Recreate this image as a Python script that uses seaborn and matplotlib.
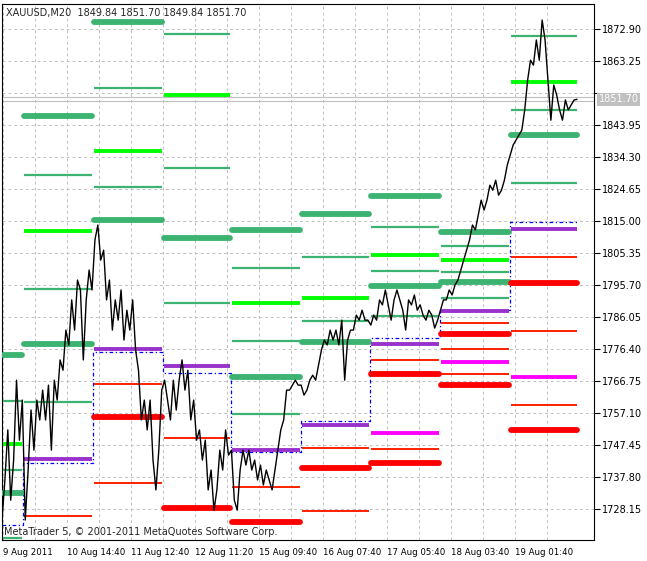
import matplotlib
matplotlib.use("Agg")
import matplotlib.pyplot as plt
import numpy as np
import pandas as pd
import seaborn as sns

# segment edges of each trading session (bar index, one bar per pixel column)
day_edges = [2, 23, 93, 163, 231, 301, 370, 440, 510, 578]

# levels per session: (price, kind)
levels = [
    [(1774.6, "G"), (1760.7, "g"), (1747.7, "L"), (1739.9, "g"), (1733.0, "G"), (1719.4, "g")],
    [(1846.7, "G"), (1828.9, "g"), (1812.0, "L"), (1794.5, "g"), (1777.9, "G"), (1760.4, "g"),
     (1743.2, "P"), (1726.0, "r")],
    [(1875.0, "G"), (1855.1, "g"), (1836.1, "L"), (1825.3, "g"), (1815.3, "G"), (1776.4, "P"),
     (1765.8, "r"), (1755.9, "R"), (1736.0, "r")],
    [(1871.4, "g"), (1853.0, "L"), (1831.0, "g"), (1809.9, "G"), (1790.3, "g"), (1771.3, "P"),
     (1749.6, "r"), (1728.4, "R")],
    [(1812.3, "G"), (1800.8, "g"), (1790.3, "L"), (1778.8, "g"), (1768.0, "G"), (1756.8, "g"),
     (1745.9, "P"), (1734.8, "r"), (1724.2, "R")],
    [(1817.1, "G"), (1804.1, "g"), (1791.8, "L"), (1784.8, "g"), (1778.5, "G"), (1753.5, "P"),
     (1746.5, "r"), (1740.5, "R"), (1727.5, "r")],
    [(1822.5, "G"), (1813.2, "g"), (1804.7, "L"), (1799.9, "g"), (1795.4, "G"), (1786.3, "g"),
     (1777.9, "P"), (1773.1, "r"), (1768.9, "R"), (1751.1, "M"), (1746.2, "r"), (1742.0, "R")],
    [(1811.7, "G"), (1807.5, "g"), (1803.2, "L"), (1799.6, "g"), (1796.6, "G"), (1791.8, "g"),
     (1787.9, "P"), (1784.2, "r"), (1780.9, "R"), (1776.4, "r"), (1772.5, "M"), (1768.9, "r"),
     (1765.5, "R")],
    [(1870.8, "g"), (1856.9, "L"), (1848.5, "g"), (1840.9, "G"), (1826.5, "g"), (1812.6, "P"),
     (1804.1, "r"), (1796.3, "R"), (1781.8, "r"), (1768.0, "M"), (1759.5, "r"), (1752.0, "R")],
]

# previous-session reference line (blue dash-dot step)
pivot = [1723.3, 1742.0, 1775.5, 1769.2, 1745.3, 1754.7, 1779.7, 1788.2, 1814.7]

close = [
    1724.8, 1736.9, 1752.0, 1730.8, 1742.9, 1767.0, 1748.9, 1761.0, 1724.8, 1739.9, 1758.0, 1745.9,
    1761.0, 1755.0, 1764.0, 1755.0, 1765.5, 1745.9, 1767.0, 1761.0, 1773.1, 1770.0, 1782.1, 1777.6,
    1791.2, 1782.1, 1797.2, 1794.2, 1773.1, 1791.2, 1800.2, 1794.2, 1809.3, 1813.8, 1803.2, 1806.2,
    1791.2, 1797.2, 1782.1, 1791.2, 1785.1, 1794.2, 1779.1, 1788.1, 1782.1, 1791.2, 1776.1, 1770.0,
    1755.0, 1761.0, 1752.0, 1761.0, 1742.9, 1733.9, 1745.9, 1764.0, 1767.0, 1761.0, 1755.0, 1767.0,
    1758.0, 1767.0, 1773.1, 1764.0, 1770.0, 1755.0, 1761.0, 1748.9, 1752.0, 1742.9, 1748.9, 1733.9,
    1739.9, 1727.8, 1733.9, 1745.9, 1739.9, 1752.0, 1744.4, 1745.9, 1730.8, 1727.8, 1739.9, 1745.9,
    1741.4, 1745.9, 1739.9, 1742.9, 1736.9, 1741.4, 1735.4, 1739.9, 1736.9, 1733.9, 1739.9, 1745.9,
    1752.0, 1755.0, 1764.0, 1764.0, 1765.5, 1767.0, 1765.5, 1765.5, 1762.5, 1764.0, 1767.0, 1768.5,
    1767.0, 1771.6, 1776.1, 1779.1, 1777.6, 1782.1, 1779.1, 1782.1, 1777.6, 1785.1, 1767.0, 1779.1,
    1782.1, 1782.1, 1786.6, 1785.1, 1788.1, 1785.1, 1785.1, 1783.6, 1786.6, 1785.1, 1791.2, 1789.7,
    1794.2, 1789.7, 1785.1, 1791.2, 1794.2, 1791.2, 1788.1, 1782.1, 1791.2, 1789.7, 1792.7, 1788.1,
    1789.7, 1786.6, 1785.1, 1788.1, 1786.6, 1782.7, 1785.1, 1788.1, 1791.2, 1791.2, 1794.2, 1792.7,
    1795.7, 1797.2, 1800.2, 1803.2, 1806.2, 1809.3, 1813.8, 1812.3, 1816.8, 1821.3, 1818.3, 1821.3,
    1825.8, 1824.3, 1827.3, 1822.8, 1824.3, 1827.3, 1831.9, 1834.9, 1837.9, 1839.4, 1840.9, 1842.4,
    1848.5, 1857.5, 1863.5, 1862.0, 1869.6, 1863.5, 1875.6, 1869.6, 1857.5, 1845.4, 1856.0, 1853.0,
    1848.5, 1845.4, 1851.5, 1848.5, 1850.0, 1851.5, 1851.7,
]

tick_labels = ["9 Aug 2011", "10 Aug 14:40", "11 Aug 12:40", "12 Aug 11:20", "15 Aug 09:40",
               "16 Aug 07:40", "17 Aug 05:40", "18 Aug 03:40", "19 Aug 01:40"]
last_price = 1851.70

STYLE = {
    "G": ("#3CB371", 4.2),
    "g": ("#3CB371", 1.6),
    "L": ("#00FF00", 2.8),
    "P": ("#9932CC", 2.8),
    "M": ("#FF00FF", 2.8),
    "R": ("#FF0000", 4.2),
    "r": ("#FF2000", 1.4),
}

sns.set_style("white")
plt.rcParams["font.family"] = ["DejaVu Sans"]

fig = plt.figure(figsize=(6.47, 5.61), dpi=100)
ax = fig.add_axes([2 / 647, 21 / 561, 592 / 647, 536 / 561])
ax.set_xlim(2, 594)
ax.set_ylim(1718.8, 1880.44)

rows = []
for i, segs in enumerate(levels):
    for price, kind in segs:
        rows.append({"x0": day_edges[i], "x1": day_edges[i + 1], "price": price, "kind": kind})
lv = pd.DataFrame(rows)

for kind, grp in lv.groupby("kind"):
    color, lw = STYLE[kind]
    for _, r in grp.iterrows():
        ax.plot([r.x0 + 1, r.x1 - 1], [r.price, r.price], color=color, lw=lw,
                solid_capstyle="round" if lw > 3 else "butt", zorder=3)

ax.step(day_edges, pivot + [pivot[-1]], where="post", color="#0000FF", lw=0.9,
        ls=(0, (3, 2, 1, 2)), zorder=2)

df = pd.DataFrame({"bar": np.linspace(2, 577, len(close)), "close": close})
sns.lineplot(data=df, x="bar", y="close", color="black", lw=1.0, ax=ax, zorder=4)

ax.axhline(last_price + 0.6, color="#c0c0c0", lw=0.8, zorder=1)
ax.axhline(last_price - 0.6, color="#c0c0c0", lw=0.8, zorder=1)

yt = 1728.15 + 9.65 * np.arange(16)
ax.set_yticks(yt)
# the label nearest the last-price box is hidden by that box
ax.set_yticklabels(["" if abs(v - last_price) < 4 else f"{v:.2f}" for v in yt], fontsize=7)
ax.yaxis.tick_right()
ax.set_xticks(3 + 64 * np.arange(len(tick_labels)))
ax.set_xticklabels(tick_labels, fontsize=6.2, ha="left")
ax.set_xticks(35 + 64 * np.arange(len(tick_labels)), minor=True)
ax.tick_params(axis="both", length=4, width=0.8, pad=2, colors="black", direction="out")
ax.tick_params(axis="x", which="minor", length=0)
ax.grid(True, which="both", color="#c0c0c0", ls=(0, (3, 3)), lw=0.7)
ax.set_xlabel("")
ax.set_ylabel("")
for s in ax.spines.values():
    s.set_color("black")
    s.set_linewidth(0.8)

ax.text(0.006, 0.993, "XAUUSD,M20  1849.84 1851.70 1849.84 1851.70", transform=ax.transAxes,
        fontsize=7, va="top", ha="left")
ax.text(0.003, 0.006, "MetaTrader 5, © 2001-2011 MetaQuotes Software Corp.", transform=ax.transAxes,
        fontsize=7, va="bottom", ha="left")
ax.text(1.008, last_price, f"{last_price:.2f}", transform=ax.get_yaxis_transform(), fontsize=7,
        va="center", ha="left", color="white",
        bbox=dict(boxstyle="square,pad=0.15", fc="#c0c0c0", ec="none"), zorder=10)

fig.savefig("out.png", dpi=100)
